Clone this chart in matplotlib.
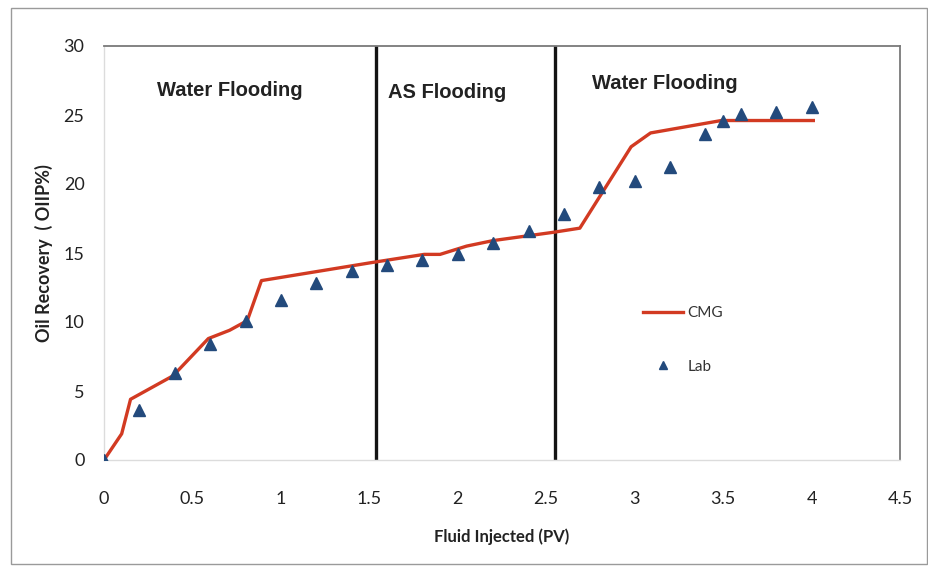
import matplotlib
matplotlib.use("Agg")
import matplotlib.pyplot as plt
from matplotlib.patches import Rectangle
from matplotlib.lines import Line2D

# Simulated recovery curve (CMG)
cmg_pv = [0.0, 0.10, 0.15, 0.39, 0.59, 0.71, 0.81, 0.89, 1.51, 1.81, 1.90,
          2.05, 2.20, 2.54, 2.69, 2.98, 3.09, 3.49, 4.01]
cmg_rec = [0.0, 1.9, 4.4, 6.1, 8.8, 9.4, 10.1, 13.0, 14.3, 14.9, 14.9,
           15.5, 15.9, 16.5, 16.8, 22.7, 23.7, 24.6, 24.6]

# Core-flood measurements (Lab)
lab_pv = [0.0, 0.2, 0.4, 0.6, 0.8, 1.0, 1.2, 1.4, 1.6, 1.8, 2.0, 2.2, 2.4,
          2.6, 2.8, 3.0, 3.2, 3.4, 3.5, 3.6, 3.8, 4.0]
lab_rec = [0.0, 3.6, 6.3, 8.4, 10.1, 11.6, 12.8, 13.7, 14.1, 14.5, 14.9,
           15.7, 16.6, 17.8, 19.8, 20.2, 21.2, 23.6, 24.6, 25.1, 25.2, 25.6]

# Flooding stage boundaries and labels
stage_bounds = [1.54, 2.55]
stage_names = ["Water Flooding", "AS Flooding", "Water Flooding"]
stage_label_x = [0.71, 1.94, 3.17]
stage_label_y = [26.8, 26.6, 27.3]

x_ticks = [0, 0.5, 1, 1.5, 2, 2.5, 3, 3.5, 4, 4.5]
x_tick_labels = ["0", "0.5", "1", "1.5", "2", "2.5", "3", "3.5", "4", "4.5"]
y_ticks = [0, 5, 10, 15, 20, 25, 30]

fig = plt.figure(figsize=(9.29, 5.67), dpi=100)
fig.patch.set_facecolor("white")
fig.patches.append(Rectangle((11 / 929, 3 / 567), 916 / 929, 556 / 567,
                             transform=fig.transFigure, fill=False,
                             edgecolor="#9a9a9a", linewidth=1.0))

ax = fig.add_axes([104 / 929, 1 - 460 / 567, (900 - 104) / 929, (460 - 46) / 567])

ax.plot(cmg_pv, cmg_rec, color="#d23a22", linewidth=2.4, label="CMG",
        solid_joinstyle="round", zorder=3)
ax.plot(lab_pv, lab_rec, linestyle="none", marker="^", markersize=8,
        color="#234a7c", label="Lab", zorder=4)

for xb in stage_bounds:
    ax.plot([xb, xb], [0, 30], color="#141414", linewidth=2.4, zorder=2)

for name, tx, ty in zip(stage_names, stage_label_x, stage_label_y):
    ax.text(tx, ty, name, ha="center", va="center", fontsize=14.5,
            fontweight="bold", family="Liberation Sans", color="#222222")

ax.set_xlim(0, 4.5)
ax.set_ylim(0, 30)
ax.set_xticks(x_ticks)
ax.set_xticklabels(x_tick_labels)
ax.set_yticks(y_ticks)
ax.tick_params(axis="both", length=0, labelsize=13, colors="#222222")
ax.tick_params(axis="x", pad=22)
ax.tick_params(axis="y", pad=14)
for lab in ax.get_xticklabels() + ax.get_yticklabels():
    lab.set_family("Lato")

for side in ("top", "right"):
    ax.spines[side].set_color("#7a7a7a")
    ax.spines[side].set_linewidth(1.3)
for side in ("left", "bottom"):
    ax.spines[side].set_color("#dcdcdc")
    ax.spines[side].set_linewidth(1.0)

ax.set_xlabel("Fluid Injected (PV)", fontsize=12, fontweight="bold",
              family="Lato", color="#222222", labelpad=16)
ax.set_ylabel("Oil Recovery  ( OIIP%)", fontsize=13, fontweight="bold",
              family="Lato", color="#222222", labelpad=8)

handles = [Line2D([], [], color="#d23a22", linewidth=2.4),
           Line2D([], [], linestyle="none", marker="^", markersize=6,
                  color="#234a7c")]
leg = ax.legend(handles, ["CMG", "Lab"], loc="center left",
                bbox_to_anchor=(0.66, 0.29), frameon=False,
                labelspacing=2.6, handlelength=2.6, handletextpad=0.3,
                prop={"family": "Lato", "size": 11})
for t in leg.get_texts():
    t.set_color("#333333")

fig.savefig("out.png", dpi=100, facecolor="white")
